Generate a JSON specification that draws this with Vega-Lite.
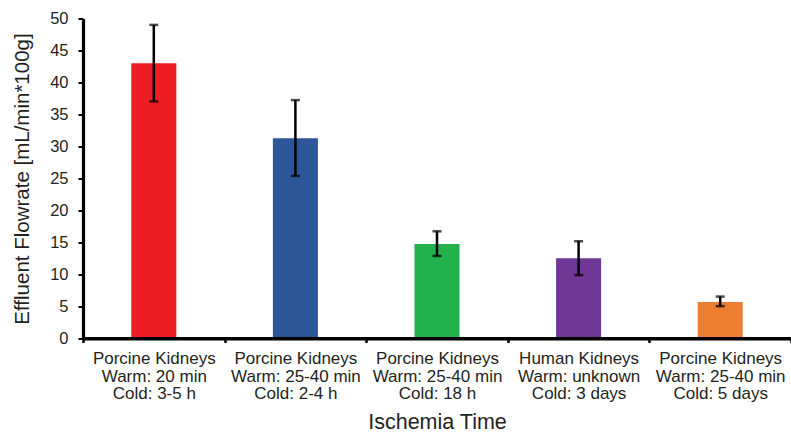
{
  "$schema": "https://vega.github.io/schema/vega-lite/v6.json",
  "width": 708,
  "height": 320,
  "autosize": {"type": "none"},
  "padding": {"left": 83, "top": 18.5, "right": 0, "bottom": 95.5},
  "background": "white",
  "config": {
    "view": {"stroke": null},
    "font": "Liberation Sans",
    "axis": {"labelFont": "Liberation Sans", "titleFont": "Liberation Sans", "labelColor": "#231F20", "titleColor": "#231F20", "titleFontWeight": "normal", "grid": false, "domainColor": "#000000", "domainWidth": 3.2, "domainOpacity": 1, "tickColor": "#000000"}
  },
  "data": {
    "values": [
      {"group": "Porcine Kidneys|Warm: 20 min|Cold: 3-5 h", "value": 43.0, "lo": 37.05, "hi": 49.0, "color": "#ED1F24"},
      {"group": "Porcine Kidneys|Warm: 25-40 min|Cold: 2-4 h", "value": 31.3, "lo": 25.4, "hi": 37.25, "color": "#2C5697"},
      {"group": "Porcine Kidneys|Warm: 25-40 min|Cold: 18 h", "value": 14.75, "lo": 12.9, "hi": 16.75, "color": "#22B14D"},
      {"group": "Human Kidneys|Warm: unknown|Cold: 3 days", "value": 12.55, "lo": 9.9, "hi": 15.2, "color": "#6E3894"},
      {"group": "Porcine Kidneys|Warm: 25-40 min|Cold: 5 days", "value": 5.7, "lo": 5.05, "hi": 6.55, "color": "#ED7D31"}
    ]
  },
  "encoding": {
    "x": {
      "field": "group", "type": "nominal", "sort": null,
      "scale": {"paddingInner": 0, "paddingOuter": 0},
      "axis": {
        "title": "Ischemia Time", "titleFontSize": 21.5, "titlePadding": 10,
        "labelAngle": 0, "labelFontSize": 17, "labelLineHeight": 17.5,
        "labelExpr": "split(datum.label, '|')", "labelPadding": 8,
        "tickBand": "extent", "tickSize": 4, "tickWidth": 2.5,
        "domainWidth": 3.2, "labelBaseline": "top"
      }
    },
    "y": {
      "type": "quantitative",
      "scale": {"domain": [0, 50], "nice": false},
      "axis": {
        "title": "Effluent Flowrate [mL/min*100g]", "titleFontSize": 20.5, "titlePadding": 17,
        "values": [0, 5, 10, 15, 20, 25, 30, 35, 40, 45, 50],
        "labelFontSize": 16.5, "labelPadding": 10, "tickSize": 5, "tickWidth": 2, "domainWidth": 3.2
      }
    }
  },
  "layer": [
    {
      "mark": {"type": "bar", "width": {"band": 0.318}},
      "encoding": {
        "y": {"field": "value", "type": "quantitative"},
        "color": {"field": "color", "type": "nominal", "scale": null, "legend": null}
      }
    },
    {
      "mark": {"type": "rule", "color": "black", "strokeWidth": 2.5},
      "encoding": {
        "y": {"field": "lo", "type": "quantitative"},
        "y2": {"field": "hi"}
      }
    },
    {
      "mark": {"type": "tick", "color": "black", "thickness": 2.5, "size": 9, "orient": "horizontal"},
      "encoding": {"y": {"field": "lo", "type": "quantitative"}}
    },
    {
      "mark": {"type": "tick", "color": "black", "thickness": 2.5, "size": 9, "orient": "horizontal"},
      "encoding": {"y": {"field": "hi", "type": "quantitative"}}
    },
    {
      "data": {"values": [{"base": 0}]},
      "mark": {"type": "rule", "color": "black", "strokeWidth": 3.2},
      "encoding": {"x": null, "y": {"field": "base", "type": "quantitative"}}
    }
  ]
}
